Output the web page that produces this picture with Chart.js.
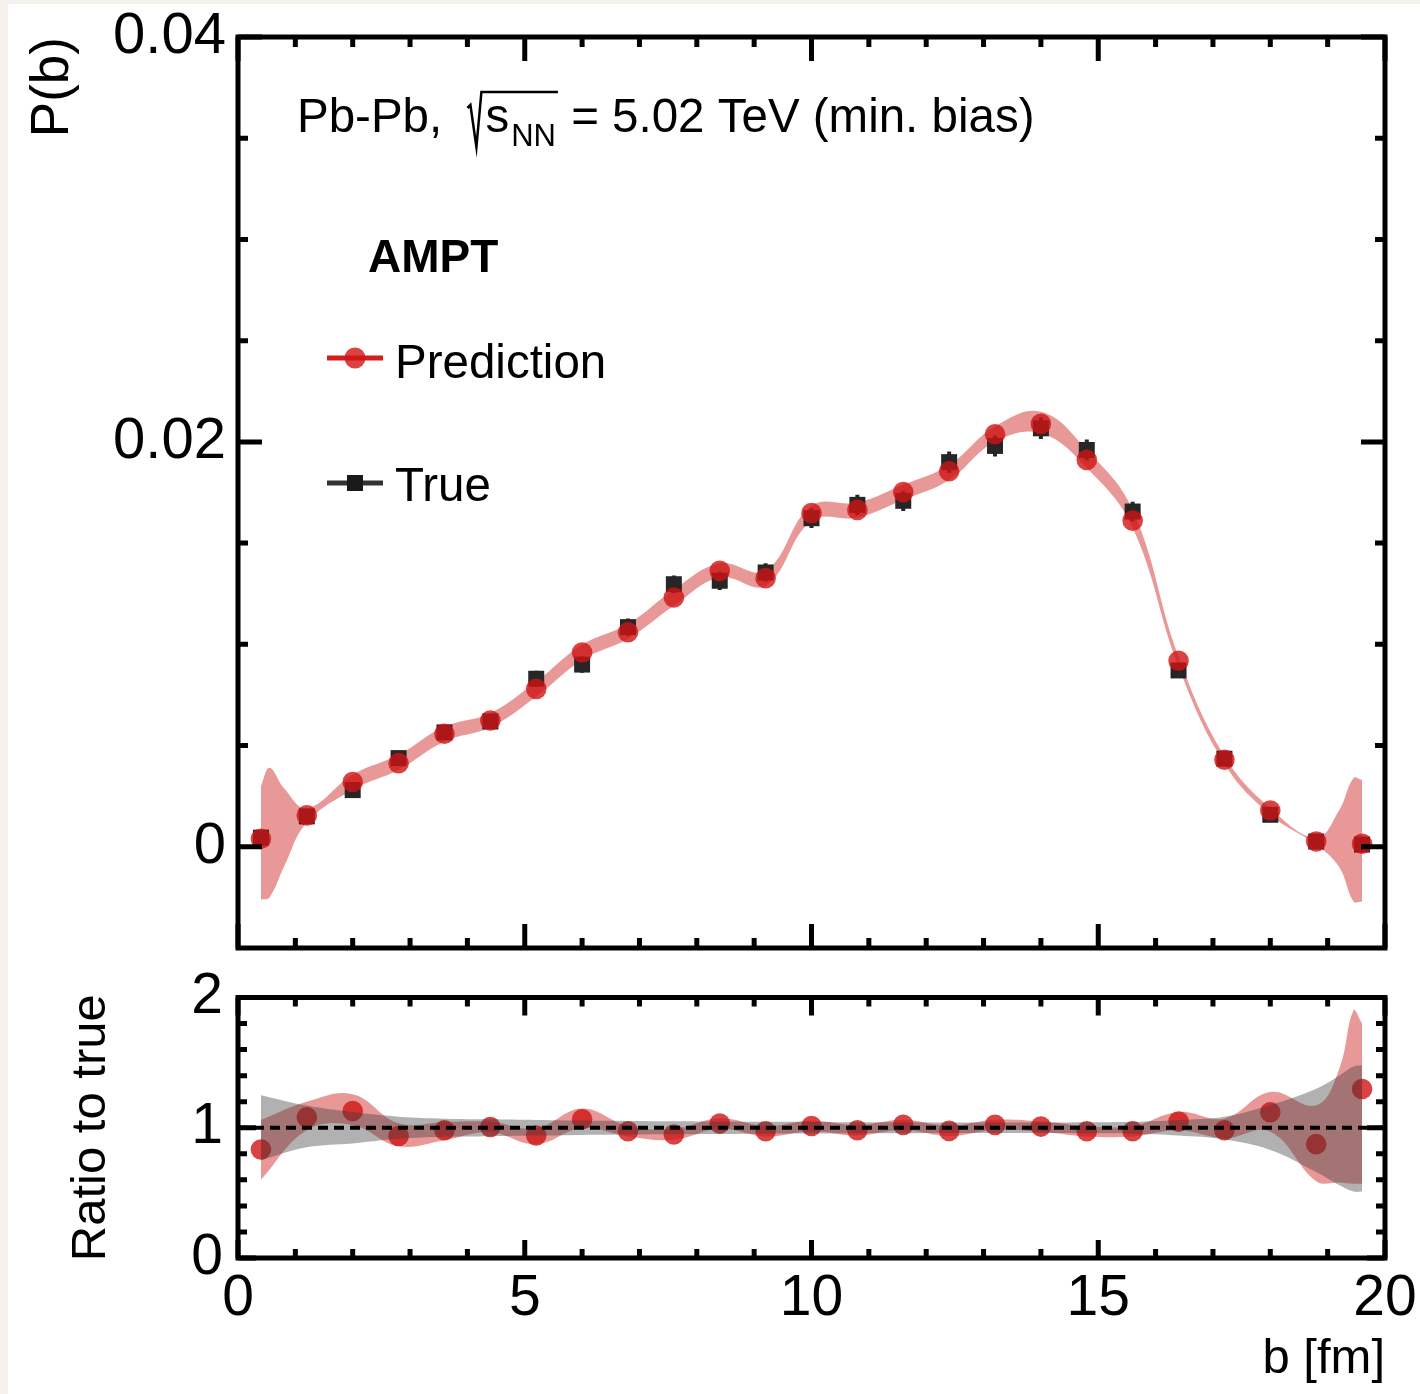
<!DOCTYPE html>
<html>
<head>
<meta charset="utf-8">
<script src="https://cdn.jsdelivr.net/npm/chart.js@4.4.1/dist/chart.umd.min.js"></script>
<style>
  html, body { margin: 0; padding: 0; }
  body { width: 1420px; height: 1394px; background: #f5f1ec; position: relative; overflow: hidden; }
  #sheet { position: absolute; left: 8px; top: 4px; right: 0; bottom: 0; background: #fff; }
  canvas { position: absolute; left: 0; }
  #mainChart { top: 0; }
  #ratioChart { top: 960px; }
</style>
</head>
<body>
<div id="sheet"></div>
<canvas id="mainChart" width="1420" height="975"></canvas>
<canvas id="ratioChart" width="1420" height="434"></canvas>
<script>
// impact parameter bins (fm)
const bVals = [0.4, 1.2, 2.0, 2.8, 3.6, 4.4, 5.2, 6.0, 6.8, 7.6, 8.4, 9.2, 10.0,
  10.8, 11.6, 12.4, 13.2, 14.0, 14.8, 15.6, 16.4, 17.2, 18.0, 18.8, 19.6];

// P(b), prediction and true
const predP = [0.00040, 0.00155, 0.00320, 0.00413, 0.00558, 0.00624, 0.00780, 0.00960, 0.01060,
  0.01231, 0.01363, 0.01327, 0.01648, 0.01664, 0.01752, 0.01855, 0.02038, 0.02089, 0.01911,
  0.01611, 0.00919, 0.00430, 0.00179, 0.00026, 0.00015];
const trueP = [0.00045, 0.00150, 0.00280, 0.00438, 0.00565, 0.00619, 0.00830, 0.00900, 0.01085,
  0.01297, 0.01314, 0.01355, 0.01623, 0.01689, 0.01709, 0.01900, 0.01980, 0.02067, 0.01960,
  0.01656, 0.00871, 0.00435, 0.00158, 0.00026, 0.00011];
const trueErr = [0.0001, 0.0002, 0.0003, 0.0003, 0.00035, 0.00035, 0.0004, 0.0004, 0.00042,
  0.00043, 0.00045, 0.00045, 0.00048, 0.0005, 0.0005, 0.00052, 0.00052, 0.00053, 0.00052,
  0.00048, 0.00035, 0.00025, 0.00015, 0.0001, 0.0001];

// prediction uncertainty band
const bandB = [0.4, 0.55, 0.8, 1.2, 2.0, 2.8, 3.6, 4.4, 5.2, 6.0, 6.8, 7.6, 8.4, 9.2, 10.0,
  10.8, 11.6, 12.4, 13.2, 14.0, 14.8, 15.6, 16.4, 17.2, 18.0, 18.8, 19.2, 19.45, 19.6];
const bandHi = [0.0030, 0.0039, 0.0029, 0.0019, 0.00356, 0.00454, 0.00594, 0.0066, 0.00816,
  0.00998, 0.0110, 0.0127, 0.0140, 0.01364, 0.01684, 0.0170, 0.01788, 0.01886, 0.02076,
  0.02149, 0.0196, 0.01664, 0.0094, 0.00449, 0.00191, 0.00044, 0.0018, 0.0034, 0.0033];
const bandLo = [-0.0026, -0.0025, -0.0010, 0.0012, 0.00281, 0.0038, 0.0052, 0.0059, 0.00742,
  0.00923, 0.01027, 0.0119, 0.0133, 0.0129, 0.0161, 0.01626, 0.01714, 0.01812, 0.02001,
  0.02043, 0.01872, 0.01575, 0.0089, 0.0041, 0.00158, 0.0001, -0.0010, -0.0027, -0.0027];

// ratio panel
const ratioVals = [0.833, 1.080, 1.129, 0.937, 0.981, 1.006, 0.940, 1.065, 0.973, 0.948, 1.032,
  0.973, 1.014, 0.981, 1.022, 0.976, 1.022, 1.009, 0.973, 0.973, 1.047, 0.981, 1.119, 0.874, 1.297];
const ratioBandB = [0.4, 1.2, 2.0, 2.8, 3.6, 4.4, 5.2, 6.0, 6.8, 7.6, 8.4, 9.2, 10.0,
  10.8, 11.6, 12.4, 13.2, 14.0, 14.8, 15.6, 16.4, 17.2, 18.0, 18.8, 19.2, 19.45, 19.6];
const ratioHi = [1.06, 1.20, 1.257, 1.034, 1.045, 1.046, 0.996, 1.147, 1.013, 0.99, 1.072, 1.013,
  1.054, 1.021, 1.062, 1.016, 1.062, 1.049, 1.013, 1.013, 1.121, 1.07, 1.274, 1.172, 1.45, 1.90, 1.80];
const ratioLo = [0.60, 0.98, 1.02, 0.858, 0.904, 0.966, 0.874, 0.996, 0.933, 0.908, 0.992, 0.933,
  0.974, 0.941, 0.982, 0.936, 0.982, 0.969, 0.933, 0.933, 0.98, 0.92, 0.97, 0.59, 0.58, 0.57, 0.57];
const trueRelHi = [1.25, 1.17, 1.12, 1.085, 1.07, 1.065, 1.06, 1.055, 1.052, 1.05, 1.048, 1.046,
  1.045, 1.043, 1.042, 1.04, 1.04, 1.04, 1.042, 1.046, 1.06, 1.085, 1.175, 1.30, 1.40, 1.47, 1.48];
const trueRelLo = [0.75, 0.85, 0.88, 0.915, 0.93, 0.935, 0.94, 0.945, 0.948, 0.95, 0.952, 0.954,
  0.955, 0.957, 0.958, 0.96, 0.96, 0.96, 0.958, 0.954, 0.94, 0.91, 0.83, 0.66, 0.56, 0.51, 0.51];
const unityX = [0, 20];
const unityY = [1, 1];

// axis ticks
const xMajor = [0, 5, 10, 15, 20];
const xLabels = ['0', '5', '10', '15', '20'];
const xMinor = [1, 2, 3, 4, 6, 7, 8, 9, 11, 12, 13, 14, 16, 17, 18, 19];
const mainYMajor = [0, 0.02, 0.04];
const mainYLabels = ['0', '0.02', '0.04'];
const mainYMinor = [0.005, 0.01, 0.015, 0.025, 0.03, 0.035];
const ratioYMajor = [0, 1, 2];
const ratioYLabels = ['0', '1', '2'];
const ratioYMinor = [0.2, 0.4, 0.6, 0.8, 1.2, 1.4, 1.6, 1.8];

const red = 'rgb(210,30,30)';
const dotRed = 'rgba(208,20,20,0.8)';
const bandRed = 'rgba(210,40,40,0.48)';
const bandGrey = 'rgba(60,60,60,0.4)';
const FONT = "'Liberation Sans', Arial, Helvetica, sans-serif";

Chart.defaults.font.family = FONT;
Chart.defaults.color = '#000';

const pts = (xs, ys) => xs.map((x, i) => ({ x: x, y: ys[i] }));

// inward ticks + thick frame, ROOT style
const frameTicks = {
  id: 'frameTicks',
  afterDatasetsDraw(chart, args, o) {
    const { ctx, chartArea: a, scales: { x, y } } = chart;
    ctx.save();
    ctx.strokeStyle = '#000';
    ctx.lineWidth = 5;
    ctx.lineCap = 'butt';
    ctx.beginPath();
    const xt = (vals, len) => vals.forEach(v => {
      const px = x.getPixelForValue(v);
      ctx.moveTo(px, a.bottom); ctx.lineTo(px, a.bottom - len);
      ctx.moveTo(px, a.top); ctx.lineTo(px, a.top + len);
    });
    const yt = (vals, len) => vals.forEach(v => {
      const py = y.getPixelForValue(v);
      ctx.moveTo(a.left, py); ctx.lineTo(a.left + len, py);
      ctx.moveTo(a.right, py); ctx.lineTo(a.right - len, py);
    });
    xt(o.xMajor, o.majorLen); xt(o.xMinor, o.minorLen);
    yt(o.yMajor, o.majorLen); yt(o.yMinor, o.minorLen);
    ctx.stroke();
    ctx.lineJoin = 'miter';
    ctx.strokeRect(a.left, a.top, a.right - a.left, a.bottom - a.top);
    ctx.restore();
  }
};

// vertical error bars of the true points
const truthBars = {
  id: 'truthBars',
  beforeDatasetDraw(chart, args) {
    if (args.index !== 2) return;
    const { ctx, scales: { x, y } } = chart;
    ctx.save();
    ctx.strokeStyle = '#262626';
    ctx.lineWidth = 4;
    ctx.beginPath();
    bVals.forEach((b, i) => {
      const px = x.getPixelForValue(b);
      ctx.moveTo(px, y.getPixelForValue(trueP[i] - trueErr[i]));
      ctx.lineTo(px, y.getPixelForValue(trueP[i] + trueErr[i]));
    });
    ctx.stroke();
    ctx.restore();
  }
};

// header text and legend
const header = {
  id: 'header',
  afterDraw(chart) {
    const ctx = chart.ctx;
    ctx.save();
    ctx.fillStyle = '#000';
    ctx.textBaseline = 'alphabetic';
    ctx.font = '47.5px ' + FONT;
    let x = 297;
    ctx.fillText('Pb-Pb,', x, 132);
    x += ctx.measureText('Pb-Pb, ').width + 12;
    const sW = ctx.measureText('s').width;
    ctx.font = '31px ' + FONT;
    const nnW = ctx.measureText('NN').width;
    ctx.strokeStyle = '#000';
    ctx.lineWidth = 2.5;
    ctx.beginPath();
    ctx.moveTo(x, 108); ctx.lineTo(x + 3, 105); ctx.lineTo(x + 9, 147);
    ctx.lineTo(x + 14, 92); ctx.lineTo(x + 18 + sW + nnW + 4, 92);
    ctx.stroke();
    ctx.font = '47.5px ' + FONT;
    ctx.fillText('s', x + 18, 132);
    ctx.font = '31px ' + FONT;
    ctx.fillText('NN', x + 18 + sW + 2, 146);
    ctx.font = '47.5px ' + FONT;
    ctx.fillText(' = 5.02 TeV (min. bias)', x + 18 + sW + nnW + 4, 132);

    ctx.font = 'bold 46px ' + FONT;
    ctx.fillText('AMPT', 368, 272);

    ctx.font = '47.5px ' + FONT;
    ctx.lineWidth = 5;
    ctx.strokeStyle = red;
    ctx.beginPath(); ctx.moveTo(327, 358); ctx.lineTo(383, 358); ctx.stroke();
    ctx.fillStyle = dotRed;
    ctx.beginPath(); ctx.arc(355, 358, 10.5, 0, Math.PI * 2); ctx.fill();
    ctx.fillStyle = '#000';
    ctx.fillText('Prediction', 395, 378);

    ctx.strokeStyle = '#333';
    ctx.beginPath(); ctx.moveTo(327, 483); ctx.lineTo(383, 483); ctx.stroke();
    ctx.fillStyle = '#1a1a1a';
    ctx.fillRect(347, 475, 16, 16);
    ctx.fillStyle = '#000';
    ctx.fillText('True', 395, 501);
    ctx.restore();
  }
};

function buildMainChart() {
  new Chart(document.getElementById('mainChart'), {
    type: 'line',
    data: {
      datasets: [
        { data: pts(bandB, bandLo), borderColor: 'transparent', pointRadius: 0, tension: 0.4, fill: false, order: 3 },
        { data: pts(bandB, bandHi), borderColor: 'transparent', backgroundColor: bandRed, pointRadius: 0, tension: 0.4, fill: '-1', order: 2 },
        { label: 'True', data: pts(bVals, trueP), showLine: false, pointStyle: 'rect', pointRadius: 11.3,
          pointBackgroundColor: '#262626', pointBorderWidth: 0, order: 1 },
        { label: 'Prediction', data: pts(bVals, predP), showLine: false, pointStyle: 'circle', pointRadius: 10.3,
          pointBackgroundColor: dotRed, pointBorderWidth: 0, order: 0 },
      ]
    },
    options: {
      responsive: false,
      animation: false,
      events: [],
      layout: { padding: { left: 0, top: 37, right: 35, bottom: 27 } },
      plugins: {
        legend: { display: false },
        tooltip: { enabled: false },
        frameTicks: { xMajor, xMinor, yMajor: mainYMajor, yMinor: mainYMinor, majorLen: 24, minorLen: 10 },
      },
      scales: {
        x: { type: 'linear', min: 0, max: 20, display: false },
        y: {
          type: 'linear', min: -0.005, max: 0.04,
          afterFit: s => { s.width = 238; s.paddingTop = 0; s.paddingBottom = 0; },
          afterBuildTicks: s => { s.ticks = mainYMajor.map(v => ({ value: v })); },
          grid: { display: false, drawTicks: false },
          border: { display: false },
          ticks: { font: { size: 58 }, padding: 12, callback: v => mainYLabels[mainYMajor.indexOf(v)] },
          title: { display: true, text: 'P(b)', align: 'end', font: { size: 53 }, padding: { top: 22, bottom: 0 } }
        }
      }
    },
    plugins: [frameTicks, truthBars, header]
  });
}

function buildRatioChart() {
  new Chart(document.getElementById('ratioChart'), {
    type: 'line',
    data: {
      datasets: [
        { data: pts(unityX, unityY), borderColor: '#000', borderWidth: 4, borderDash: [10, 6], pointRadius: 0, fill: false, order: 0 },
        { data: pts(ratioBandB, trueRelHi), borderColor: 'transparent', backgroundColor: bandGrey, pointRadius: 0, tension: 0.4, fill: '+1', order: 1 },
        { data: pts(ratioBandB, trueRelLo), borderColor: 'transparent', pointRadius: 0, tension: 0.4, fill: false, order: 2 },
        { data: pts(bVals, ratioVals), showLine: false, pointStyle: 'circle', pointRadius: 10.3,
          pointBackgroundColor: dotRed, pointBorderWidth: 0, order: 3 },
        { data: pts(ratioBandB, ratioHi), borderColor: 'transparent', backgroundColor: bandRed, pointRadius: 0, tension: 0.4, fill: '+1', order: 4 },
        { data: pts(ratioBandB, ratioLo), borderColor: 'transparent', pointRadius: 0, tension: 0.4, fill: false, order: 5 },
      ]
    },
    options: {
      responsive: false,
      animation: false,
      events: [],
      layout: { padding: { left: 0, top: 37.5, right: 35, bottom: 0 } },
      plugins: {
        legend: { display: false },
        tooltip: { enabled: false },
        frameTicks: { xMajor, xMinor, yMajor: ratioYMajor, yMinor: ratioYMinor, majorLen: 18, minorLen: 9 },
      },
      scales: {
        x: {
          type: 'linear', min: 0, max: 20,
          afterFit: s => { s.height = 136; s.paddingLeft = 0; s.paddingRight = 0; },
          afterBuildTicks: s => { s.ticks = xMajor.map(v => ({ value: v })); },
          grid: { display: false, drawTicks: false },
          border: { display: false },
          ticks: { font: { size: 57 }, padding: 7, maxRotation: 0, autoSkip: false,
            callback: v => xLabels[xMajor.indexOf(v)] },
          title: { display: true, text: 'b [fm]', align: 'end', font: { size: 49 }, padding: { top: 0, bottom: 5 } }
        },
        y: {
          type: 'linear', min: 0, max: 2,
          afterFit: s => { s.width = 238; s.paddingTop = 0; s.paddingBottom = 0; },
          afterBuildTicks: s => { s.ticks = ratioYMajor.map(v => ({ value: v })); },
          grid: { display: false, drawTicks: false },
          border: { display: false },
          ticks: { font: { size: 57 }, padding: 15, callback: v => ratioYLabels[ratioYMajor.indexOf(v)] },
          title: { display: true, text: 'Ratio to true', font: { size: 49 }, padding: { top: 62, bottom: 0 } }
        }
      }
    },
    plugins: [frameTicks]
  });
}

buildMainChart();
buildRatioChart();
</script>
</body>
</html>
